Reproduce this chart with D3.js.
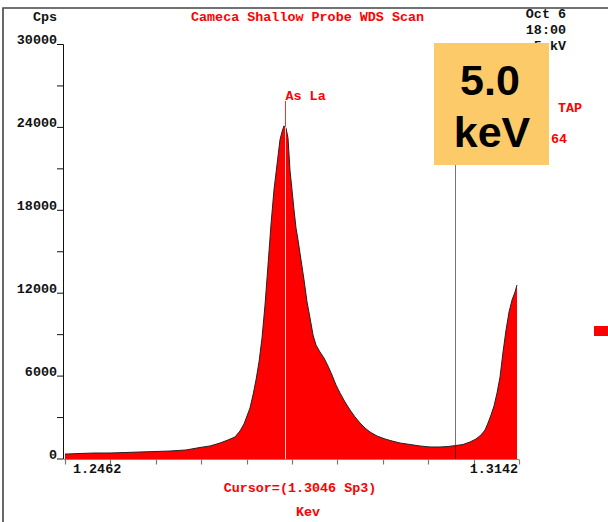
<!DOCTYPE html>
<html><head><meta charset="utf-8">
<script src="https://cdn.jsdelivr.net/npm/d3@7"></script>
<style>html,body{margin:0;padding:0;background:#fff;}svg{display:block;}</style>
</head><body>
<svg id="c" width="608" height="522"></svg>
<script>
// ---- data ----
const energies = [1.24620,1.24665,1.24845,1.25069,1.25294,1.25519,1.25743,1.25983,1.26193,1.26432,
 1.26642,1.26792,1.26942,1.27061,1.27166,1.27241,1.27301,1.27346,1.27391,1.27436,
 1.27481,1.27526,1.27571,1.27616,1.27660,1.27705,1.27750,1.27795,1.27840,1.27870,
 1.27900,1.27930,1.27960,1.27990,1.28020,1.28050,1.28080,1.28110,1.28155,1.28200,
 1.28245,1.28290,1.28335,1.28379,1.28439,1.28499,1.28559,1.28619,1.28679,1.28739,
 1.28814,1.28889,1.28964,1.29039,1.29113,1.29188,1.29293,1.29413,1.29518,1.29638,
 1.29788,1.29937,1.30087,1.30237,1.30357,1.30476,1.30581,1.30686,1.30776,1.30851,
 1.30911,1.30956,1.31001,1.31046,1.31091,1.31136,1.31181,1.31226,1.31271,1.31316,
 1.31361,1.31390];
const counts = [362,362,400,434,434,470,507,543,579,652,
 833,941,1158,1376,1593,2027,2534,3113,3692,4634,
 5720,7023,8760,11150,13973,16942,19476,21286,23096,23675,
 24110,23965,23240,20900,19476,18028,16724,15856,14408,12960,
 11367,10208,8978,8254,7747,7312,6733,6082,5358,4778,
 4127,3548,3041,2606,2244,1955,1665,1448,1303,1158,
 1050,941,869,869,905,977,1050,1231,1448,1738,
 2100,2606,3186,3837,4778,5937,7747,9340,10643,11512,
 12091,12598];
const yTicks = [0,6000,12000,18000,24000,30000];
const yMinor = [3000,9000,15000,21000,27000];
const xTickCount = 10;
const xDomain = [1.2462, 1.3142];
const xLabels = ["1.2462","1.3142"];
const peakLabel = "As La", peakEnergy = 1.27915;
const cursorEnergy = 1.3046;
const title = "Cameca Shallow Probe WDS Scan";
const infoLines = ["Oct 6","18:00","5 kV"];

const data = energies.map((e,i)=>({e, c:counts[i]}));
const svg = d3.select("#c");
const mono = "'Liberation Mono','DejaVu Sans Mono',monospace";

const x = d3.scaleLinear().domain(xDomain).range([65,519]);
const y = d3.scaleLinear().domain([0,30000]).range([459,44.5]);

// frame
svg.append("path").attr("d","M3,522V8H608").attr("fill","none").attr("stroke","#444").attr("stroke-width",1.6);

// area
const area = d3.area().x(d=>x(d.e)).y0(y(0)).y1(d=>y(d.c));
svg.append("path").datum(data).attr("d",area).attr("fill","#ff0000");
svg.append("path").datum(data).attr("d",d3.line().x(d=>x(d.e)).y(d=>y(d.c)))
  .attr("fill","none").attr("stroke","#222").attr("stroke-width",1);

function valAt(e){
  const i = d3.bisector(d=>d.e).left(data, e);
  const a = data[Math.max(0,i-1)], b = data[Math.min(data.length-1,i)];
  if (a===b) return a.c;
  return a.c + (b.c-a.c)*(e-a.e)/(b.e-a.e);
}

// x axis
const xg = svg.append("g").attr("transform",`translate(0,${y(0)+0.5})`);
xg.append("line").attr("x1",x.range()[0]-1).attr("x2",x.range()[1]).attr("stroke","#888").attr("stroke-width",1.2);
xg.selectAll(".xt").data(d3.range(xTickCount+1)).join("line")
  .attr("x1",i=>Math.round(x(xDomain[0]+(xDomain[1]-xDomain[0])*i/xTickCount))+0.5)
  .attr("x2",i=>Math.round(x(xDomain[0]+(xDomain[1]-xDomain[0])*i/xTickCount))+0.5)
  .attr("y1",0).attr("y2",5).attr("stroke","#777").attr("stroke-width",1.2);
xg.append("text").attr("x",x(xDomain[0])+8).attr("y",13).text(xLabels[0])
  .attr("font-family",mono).attr("font-weight","bold").attr("font-size","13.4px").attr("fill","#111");
xg.append("text").attr("x",x(xDomain[1])-1).attr("y",13).attr("text-anchor","end").text(xLabels[1])
  .attr("font-family",mono).attr("font-weight","bold").attr("font-size","13.4px").attr("fill","#111");

// y axis
const yg = svg.append("g").attr("transform","translate(63.5,0)");
yg.append("line").attr("y1",y(30000)).attr("y2",y(0)).attr("stroke","#111");
yg.selectAll(".yt").data(yTicks.concat(yMinor)).join("line")
  .attr("x1",-6.5).attr("x2",0).attr("y1",d=>y(d)).attr("y2",d=>y(d)).attr("stroke","#111");
yg.selectAll(".yl").data(yTicks).join("text")
  .attr("x",-6.5).attr("y",d=>y(d)-0.5).attr("text-anchor","end").text(d=>d)
  .attr("font-family",mono).attr("font-weight","bold").attr("font-size","13.4px").attr("fill","#111");
svg.append("text").attr("x",57).attr("y",21).attr("text-anchor","end").text("Cps")
  .attr("font-family",mono).attr("font-weight","bold").attr("font-size","13.4px").attr("fill","#111");

// peak marker
const px = Math.round(x(peakEnergy))+0.5, pTop = y(valAt(peakEnergy));
svg.append("line").attr("x1",px).attr("x2",px).attr("y1",101).attr("y2",pTop).attr("stroke","#ff3030");
svg.append("line").attr("x1",px).attr("x2",px).attr("y1",pTop).attr("y2",y(0)).attr("stroke","#ffd0d0");
svg.append("text").attr("x",px).attr("y",100).text(peakLabel)
  .attr("font-family",mono).attr("font-weight","bold").attr("font-size","13.4px").attr("fill","#ff0000");

// cursor
const cx = Math.round(x(cursorEnergy))+0.5, cTop = y(valAt(cursorEnergy));
svg.append("line").attr("x1",cx).attr("x2",cx).attr("y1",y(30000)).attr("y2",cTop).attr("stroke","#777");
svg.append("line").attr("x1",cx).attr("x2",cx).attr("y1",cTop).attr("y2",y(0)).attr("stroke","#500");

// texts
svg.append("text").attr("x",191).attr("y",21).text(title)
  .attr("font-family",mono).attr("font-weight","bold").attr("font-size","13.4px").attr("fill","#ff0000");
svg.selectAll(".info").data(infoLines).join("text")
  .attr("x",566).attr("y",(d,i)=>18+i*16).attr("text-anchor","end").text(d=>d)
  .attr("font-family",mono).attr("font-weight","bold").attr("font-size","13.4px").attr("fill","#111");
svg.append("text").attr("x",558).attr("y",112).text("TAP")
  .attr("font-family",mono).attr("font-weight","bold").attr("font-size","13.4px").attr("fill","#ff0000");
svg.append("text").attr("x",551).attr("y",143).text("64")
  .attr("font-family",mono).attr("font-weight","bold").attr("font-size","13.4px").attr("fill","#ff0000");
svg.append("text").attr("x",300).attr("y",492).attr("text-anchor","middle").text(`Cursor=(${cursorEnergy} Sp3)`)
  .attr("font-family",mono).attr("font-weight","bold").attr("font-size","13.4px").attr("fill","#ff0000");
svg.append("text").attr("x",308).attr("y",516).attr("text-anchor","middle").text("Kev")
  .attr("font-family",mono).attr("font-weight","bold").attr("font-size","13.4px").attr("fill","#ff0000");

// red marker at right
svg.append("rect").attr("x",594).attr("y",326).attr("width",14).attr("height",10).attr("fill","#ff0000");

// overlay box
svg.append("rect").attr("x",434).attr("y",43).attr("width",115).attr("height",122).attr("fill","#fdca69");
svg.append("text").attr("x",490).attr("y",95).attr("text-anchor","middle").text("5.0")
  .attr("font-family","'Liberation Sans',Arial,sans-serif").attr("font-weight","bold").attr("font-size","43px").attr("fill","#000");
svg.append("text").attr("x",492).attr("y",147).attr("text-anchor","middle").text("keV")
  .attr("font-family","'Liberation Sans',Arial,sans-serif").attr("font-weight","bold").attr("font-size","43px").attr("fill","#000");
</script>
</body></html>
